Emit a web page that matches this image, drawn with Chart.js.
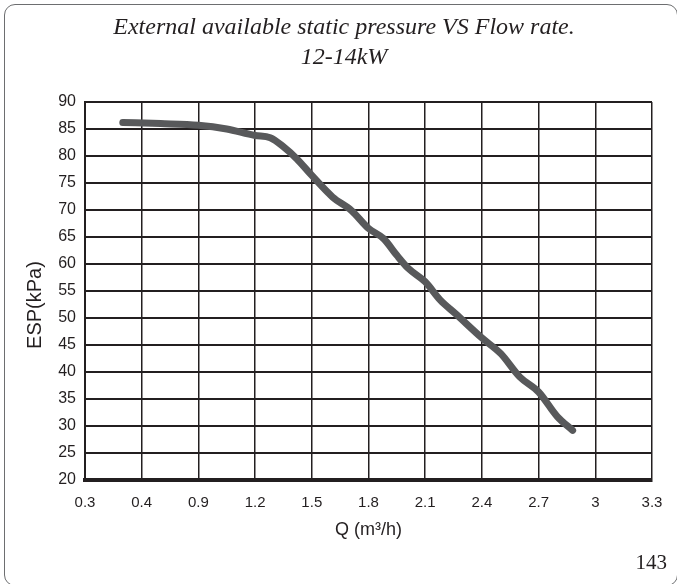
<!DOCTYPE html>
<html>
<head>
<meta charset="utf-8">
<script src="https://cdn.jsdelivr.net/npm/chart.js@4/dist/chart.umd.min.js"></script>
<style>
html, body { margin: 0; padding: 0; background: #fff; }
#wrap { position: relative; width: 677px; height: 584px; overflow: hidden; }
#frame { position: absolute; left: 4px; top: 4px; width: 674px; height: 582px; border: 1.5px solid #6d6e70; border-radius: 11px; box-sizing: border-box; }
canvas { position: absolute; left: 0; top: 0; }
</style>
</head>
<body>
<div id="wrap">
  <div id="frame"></div>
  <canvas id="chart" width="677" height="584"></canvas>
</div>
<script>
// curve: flow Q (m3/h) and ESP (kPa)
const flowQ = [0.5, 0.7, 0.9, 1.05, 1.2, 1.28, 1.35, 1.42, 1.5, 1.61, 1.71, 1.8, 1.88, 1.95, 2.01, 2.1, 2.18, 2.26, 2.4, 2.5, 2.6, 2.7, 2.8, 2.88];
const espKpa = [86.2, 86.0, 85.7, 85.0, 83.8, 83.4, 81.7, 79.5, 76.4, 72.4, 69.9, 66.6, 64.7, 61.6, 59.2, 56.7, 53.3, 50.8, 46.3, 43.4, 39.1, 36.3, 31.7, 29.2];

const xTickValues = [0.3, 0.6, 0.9, 1.2, 1.5, 1.8, 2.1, 2.4, 2.7, 3.0, 3.3];
const xTickLabels = ['0.3', '0.4', '0.9', '1.2', '1.5', '1.8', '2.1', '2.4', '2.7', '3', '3.3'];

const titleLines = ['External available static pressure VS Flow rate.', '12-14kW'];
const yTitle = 'ESP(kPa)';
const pageNo = '143';

const ink = '#231f20';

const points = flowQ.map((q, i) => ({ x: q, y: espKpa[i] }));

// extra text: title, y-axis title, page number
const textPlugin = {
    id: 'texts',
    afterDraw(chart) {
        const ctx = chart.ctx;
        ctx.save();
        ctx.fillStyle = ink;
        ctx.textAlign = 'center';
        ctx.textBaseline = 'alphabetic';
        ctx.font = 'italic 24px "Liberation Serif"';
        ctx.fillText(titleLines[0], 344, 34);
        ctx.fillText(titleLines[1], 344, 64);

        ctx.font = '20px "Liberation Sans"';
        ctx.translate(35, 305);
        ctx.rotate(-Math.PI / 2);
        ctx.textBaseline = 'middle';
        ctx.fillText(yTitle, 0, 0);
        ctx.restore();

        ctx.save();
        ctx.fillStyle = ink;
        ctx.font = '21px "Liberation Serif"';
        ctx.textAlign = 'right';
        ctx.textBaseline = 'middle';
        ctx.fillText(pageNo, 667, 563);
        ctx.restore();
    }
};

new Chart(document.getElementById('chart'), {
    type: 'line',
    data: {
        datasets: [{
            data: points,
            borderColor: '#58595b',
            borderWidth: 7,
            borderCapStyle: 'round',
            borderJoinStyle: 'round',
            pointRadius: 0,
            tension: 0.4,
            cubicInterpolationMode: 'monotone',
            fill: false
        }]
    },
    options: {
        responsive: false,
        animation: false,
        layout: { padding: { top: 102, right: 25, left: 0, bottom: 0 } },
        plugins: { legend: { display: false }, tooltip: { enabled: false } },
        scales: {
            x: {
                type: 'linear',
                min: 0.3,
                max: 3.3,
                afterBuildTicks(scale) {
                    scale.ticks = xTickValues.map(v => ({ value: v }));
                },
                afterFit(scale) { scale.height = 104; },
                ticks: {
                    autoSkip: false,
                    maxRotation: 0,
                    padding: 14,
                    color: ink,
                    font: { family: 'Liberation Sans', size: 15 },
                    callback: (v, i) => xTickLabels[i]
                },
                grid: { color: ink, lineWidth: 1.5, drawTicks: false },
                border: { color: ink, width: 4 },
                title: {
                    display: true,
                    text: 'Q (m³/h)',
                    color: ink,
                    font: { family: 'Liberation Sans', size: 18 },
                    padding: { top: 0, bottom: 43 }
                }
            },
            y: {
                min: 20,
                max: 90,
                afterFit(scale) { scale.width = 85; },
                ticks: {
                    stepSize: 5,
                    padding: 9,
                    color: ink,
                    font: { family: 'Liberation Sans', size: 16 }
                },
                grid: { color: ink, lineWidth: 2, drawTicks: false },
                border: { color: ink, width: 2 }
            }
        }
    },
    plugins: [textPlugin]
});
</script>
</body>
</html>
